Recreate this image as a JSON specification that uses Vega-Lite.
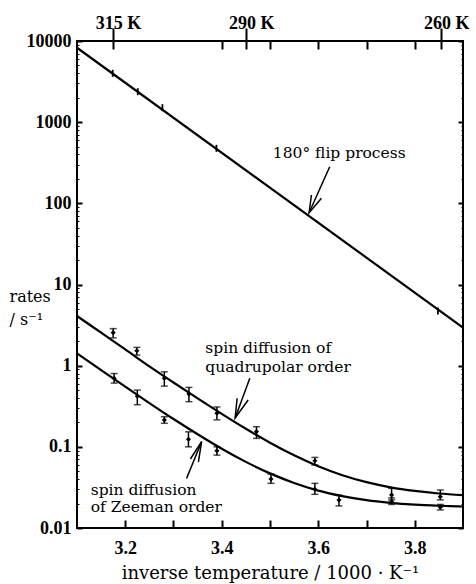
{
  "$schema": "https://vega.github.io/schema/vega-lite/v6.json",
  "width": 386,
  "height": 487,
  "autosize": "none",
  "padding": {"left": 77, "top": 41, "right": 13, "bottom": 56},
  "background": "white",
  "config": {
    "view": {"stroke": "black", "strokeWidth": 2},
    "axis": {
      "domain": false, "grid": false,
      "labelFont": "Liberation Serif", "labelFontWeight": "bold", "labelFontSize": 18, "labelColor": "black",
      "tickColor": "black", "tickWidth": 2,
      "titleFont": "DejaVu Serif", "titleFontWeight": "normal", "titleFontSize": 15, "titleColor": "black",
      "labelOverlap": false, "labelFlush": false
    }
  },
  "datasets": {
    "curves": [
      {"s": "flip", "x": 3.1, "y": 8260}, {"s": "flip", "x": 3.9, "y": 2.94},
      {"s": "quad", "x": 3.10, "y": 4.09}, {"s": "quad", "x": 3.15, "y": 2.55}, {"s": "quad", "x": 3.20, "y": 1.59},
      {"s": "quad", "x": 3.25, "y": 0.98}, {"s": "quad", "x": 3.30, "y": 0.62}, {"s": "quad", "x": 3.35, "y": 0.395},
      {"s": "quad", "x": 3.40, "y": 0.255}, {"s": "quad", "x": 3.45, "y": 0.167}, {"s": "quad", "x": 3.50, "y": 0.1125},
      {"s": "quad", "x": 3.55, "y": 0.0787}, {"s": "quad", "x": 3.60, "y": 0.0577}, {"s": "quad", "x": 3.65, "y": 0.0447},
      {"s": "quad", "x": 3.70, "y": 0.0367}, {"s": "quad", "x": 3.75, "y": 0.0317}, {"s": "quad", "x": 3.80, "y": 0.0286},
      {"s": "quad", "x": 3.85, "y": 0.0266}, {"s": "quad", "x": 3.90, "y": 0.0254},
      {"s": "zee", "x": 3.10, "y": 1.42}, {"s": "zee", "x": 3.15, "y": 0.882}, {"s": "zee", "x": 3.20, "y": 0.551},
      {"s": "zee", "x": 3.25, "y": 0.346}, {"s": "zee", "x": 3.30, "y": 0.220}, {"s": "zee", "x": 3.35, "y": 0.143},
      {"s": "zee", "x": 3.40, "y": 0.0948}, {"s": "zee", "x": 3.45, "y": 0.0653}, {"s": "zee", "x": 3.50, "y": 0.0471},
      {"s": "zee", "x": 3.55, "y": 0.0359}, {"s": "zee", "x": 3.60, "y": 0.0289}, {"s": "zee", "x": 3.65, "y": 0.0247},
      {"s": "zee", "x": 3.70, "y": 0.0220}, {"s": "zee", "x": 3.75, "y": 0.0204}, {"s": "zee", "x": 3.80, "y": 0.0194},
      {"s": "zee", "x": 3.85, "y": 0.0188}, {"s": "zee", "x": 3.90, "y": 0.0184}
    ],
    "flippts": [
      {"x": 3.174, "lo": 3620, "hi": 4420},
      {"x": 3.226, "lo": 2150, "hi": 2620},
      {"x": 3.277, "lo": 1365, "hi": 1665},
      {"x": 3.389, "lo": 431, "hi": 526},
      {"x": 3.848, "lo": 4.27, "hi": 5.2}
    ],
    "pts": [
      {"s": "quad", "x": 3.175, "y": 2.55, "lo": 2.2, "hi": 2.86},
      {"s": "quad", "x": 3.224, "y": 1.53, "lo": 1.35, "hi": 1.68},
      {"s": "quad", "x": 3.281, "y": 0.70, "lo": 0.56, "hi": 0.84},
      {"s": "quad", "x": 3.332, "y": 0.448, "lo": 0.36, "hi": 0.54},
      {"s": "quad", "x": 3.39, "y": 0.259, "lo": 0.215, "hi": 0.31},
      {"s": "quad", "x": 3.472, "y": 0.154, "lo": 0.127, "hi": 0.177},
      {"s": "quad", "x": 3.593, "y": 0.0675, "lo": 0.0597, "hi": 0.0741},
      {"s": "quad", "x": 3.752, "y": 0.0255, "lo": 0.0222, "hi": 0.0308},
      {"s": "quad", "x": 3.853, "y": 0.0243, "lo": 0.0222, "hi": 0.0294},
      {"s": "zee", "x": 3.177, "y": 0.70, "lo": 0.61, "hi": 0.80},
      {"s": "zee", "x": 3.225, "y": 0.42, "lo": 0.33, "hi": 0.50},
      {"s": "zee", "x": 3.281, "y": 0.214, "lo": 0.195, "hi": 0.235},
      {"s": "zee", "x": 3.331, "y": 0.124, "lo": 0.10, "hi": 0.153},
      {"s": "zee", "x": 3.39, "y": 0.0895, "lo": 0.079, "hi": 0.100},
      {"s": "zee", "x": 3.502, "y": 0.0402, "lo": 0.0355, "hi": 0.0462},
      {"s": "zee", "x": 3.593, "y": 0.0300, "lo": 0.0260, "hi": 0.0355},
      {"s": "zee", "x": 3.643, "y": 0.0221, "lo": 0.0187, "hi": 0.0254},
      {"s": "zee", "x": 3.752, "y": 0.0211, "lo": 0.0195, "hi": 0.0235},
      {"s": "zee", "x": 3.853, "y": 0.0180, "lo": 0.0167, "hi": 0.0195}
    ],
    "arrows": [
      {"seg": "f-shaft", "o": 1, "x": 3.6238, "y": 282.6}, {"seg": "f-shaft", "o": 2, "x": 3.581, "y": 76.6},
      {"seg": "f-head", "o": 1, "x": 3.5859, "y": 126.6}, {"seg": "f-head", "o": 2, "x": 3.581, "y": 76.6}, {"seg": "f-head", "o": 3, "x": 3.6066, "y": 115.3},
      {"seg": "q-shaft", "o": 1, "x": 3.4582, "y": 0.6986}, {"seg": "q-shaft", "o": 2, "x": 3.4277, "y": 0.2265},
      {"seg": "q-head", "o": 1, "x": 3.4319, "y": 0.3963}, {"seg": "q-head", "o": 2, "x": 3.4277, "y": 0.2265}, {"seg": "q-head", "o": 3, "x": 3.4547, "y": 0.3776},
      {"seg": "z-shaft", "o": 1, "x": 3.3271, "y": 0.0409}, {"seg": "z-shaft", "o": 2, "x": 3.3582, "y": 0.1156},
      {"seg": "z-head", "o": 1, "x": 3.335, "y": 0.0708}, {"seg": "z-head", "o": 2, "x": 3.3582, "y": 0.1156}, {"seg": "z-head", "o": 3, "x": 3.3516, "y": 0.065}
    ],
    "labels": [
      {"t": "180° flip process", "x": 3.5058, "y": 417},
      {"t": "spin diffusion of", "x": 3.366, "y": 1.637},
      {"t": "quadrupolar order", "x": 3.366, "y": 0.97},
      {"t": "spin diffusion", "x": 3.1284, "y": 0.0294},
      {"t": "of Zeeman order", "x": 3.1284, "y": 0.018}
    ]
  },
  "layer": [
    {
      "data": {"name": "curves"},
      "mark": {"type": "line", "color": "black", "strokeWidth": 2.2, "interpolate": "monotone"},
      "encoding": {
        "x": {"field": "x", "type": "quantitative", "scale": {"domain": [3.1, 3.9], "nice": false, "zero": false},
          "axis": {"orient": "bottom", "values": [3.2, 3.3, 3.4, 3.5, 3.6, 3.7, 3.8], "format": ".1f",
            "labelExpr": "datum.label == '3.3' || datum.label == '3.5' || datum.label == '3.7' ? '' : datum.label",
            "tickSize": -8, "labelBaseline": "alphabetic", "labelPadding": 33, "labelFontSize": 18,
            "title": "inverse temperature / 1000 · K⁻¹", "titleFontSize": 18, "titleBaseline": "alphabetic", "titleX": 193, "titleY": 50, "titleAlign": "center"}},
        "y": {"field": "y", "type": "quantitative", "scale": {"type": "log", "domain": [0.01, 10000], "nice": false},
          "axis": {"orient": "left",
            "values": [0.01,0.02,0.03,0.04,0.05,0.06,0.07,0.08,0.09,0.1,0.2,0.3,0.4,0.5,0.6,0.7,0.8,0.9,1,2,3,4,5,6,7,8,9,10,20,30,40,50,60,70,80,90,100,200,300,400,500,600,700,800,900,1000,2000,3000,4000,5000,6000,7000,8000,9000,10000],
            "tickSize": {"condition": {"test": "abs(log(datum.value)/LN10 - round(log(datum.value)/LN10)) < 0.001", "value": -5}, "value": -2},
            "tickWidth": {"condition": {"test": "abs(log(datum.value)/LN10 - round(log(datum.value)/LN10)) < 0.001", "value": 2}, "value": 1},
            "labelExpr": "abs(log(datum.value)/LN10 - round(log(datum.value)/LN10)) < 0.001 ? (datum.value >= 1 ? format(datum.value, 'd') : (datum.value < 0.05 ? '0.01' : '0.1')) : ''",
            "labelPadding": 11, "labelFontSize": 18,
            "title": ["rates", "/ s⁻¹"], "titleFontSize": 16, "titleAngle": 0, "titleAlign": "left", "titleBaseline": "alphabetic",
            "titleX": -68, "titleY": 260, "titleLineHeight": 23}},
        "detail": {"field": "s"}
      }
    },
    {
      "data": {"name": "flippts"},
      "mark": {"type": "rule", "color": "black", "strokeWidth": 1.8},
      "encoding": {
        "x": {"field": "x", "type": "quantitative", "axis": null},
        "y": {"field": "lo", "type": "quantitative", "axis": null},
        "y2": {"field": "hi"}
      }
    },
    {
      "data": {"name": "pts"},
      "mark": {"type": "errorbar", "color": "black", "ticks": {"size": 7, "thickness": 1.5}, "rule": {"strokeWidth": 1.5}},
      "encoding": {
        "x": {"field": "x", "type": "quantitative", "axis": null},
        "y": {"field": "lo", "type": "quantitative", "axis": null},
        "y2": {"field": "hi"}
      }
    },
    {
      "data": {"name": "pts"},
      "mark": {"type": "point", "shape": "diamond", "filled": true, "color": "black", "size": 26, "opacity": 1},
      "encoding": {
        "x": {"field": "x", "type": "quantitative", "axis": null},
        "y": {"field": "y", "type": "quantitative", "axis": null}
      }
    },
    {
      "data": {"name": "arrows"},
      "mark": {"type": "line", "color": "black", "strokeWidth": 1.5},
      "encoding": {
        "x": {"field": "x", "type": "quantitative", "axis": null},
        "y": {"field": "y", "type": "quantitative", "axis": null},
        "detail": {"field": "seg"},
        "order": {"field": "o"}
      }
    },
    {
      "data": {"name": "labels"},
      "mark": {"type": "text", "font": "DejaVu Serif", "fontSize": 15.5, "align": "left", "baseline": "middle", "color": "black"},
      "encoding": {
        "x": {"field": "x", "type": "quantitative",
          "axis": {"orient": "top", "offset": -8, "title": null,
            "values": [3.1745, 3.4, 3.451, 3.5, 3.6, 3.7, 3.8, 3.855],
            "tickSize": {"condition": {"test": "datum.value == 3.1745 || datum.value == 3.451 || datum.value == 3.855", "value": 21}, "value": 8},
            "labelExpr": "datum.value == 3.1745 ? '315 K' : (datum.value == 3.451 ? '290 K' : (datum.value == 3.855 ? '260 K' : ''))",
            "labelBaseline": "alphabetic", "labelPadding": 0, "labelOffset": 5, "labelFontSize": 18}},
        "y": {"field": "y", "type": "quantitative",
          "axis": {"orient": "right", "title": null, "labels": false,
            "values": [0.01,0.02,0.03,0.04,0.05,0.06,0.07,0.08,0.09,0.1,0.2,0.3,0.4,0.5,0.6,0.7,0.8,0.9,1,2,3,4,5,6,7,8,9,10,20,30,40,50,60,70,80,90,100,200,300,400,500,600,700,800,900,1000,2000,3000,4000,5000,6000,7000,8000,9000,10000],
            "tickSize": {"condition": {"test": "abs(log(datum.value)/LN10 - round(log(datum.value)/LN10)) < 0.001", "value": -5}, "value": -2},
            "tickWidth": {"condition": {"test": "abs(log(datum.value)/LN10 - round(log(datum.value)/LN10)) < 0.001", "value": 2}, "value": 1}}},
        "text": {"field": "t"}
      }
    }
  ],
  "resolve": {"axis": {"x": "independent", "y": "independent"}}
}
